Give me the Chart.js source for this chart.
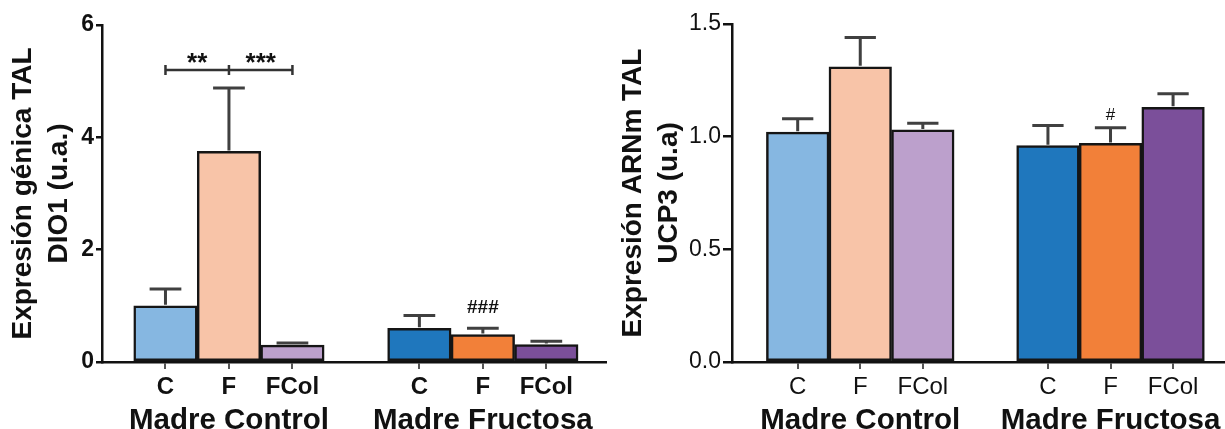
<!DOCTYPE html>
<html>
<head>
<meta charset="utf-8">
<script src="https://cdn.jsdelivr.net/npm/chart.js@4.4.0/dist/chart.umd.min.js"></script>
<style>
  body { margin: 0; background: #fff; }
  #wrap { position: relative; width: 1225px; height: 429px; }
  .box { position: absolute; top: 0; height: 429px; }
</style>
</head>
<body>
<div id="wrap">
  <div class="box" style="left:0;width:612px"><canvas id="dio1"></canvas></div>
  <div class="box" style="left:612px;width:613px"><canvas id="ucp3"></canvas></div>
</div>
<script>
const groups = ['Madre Control', 'Madre Fructosa'];
const treatments = ['C', 'F', 'FCol'];
const barColors = ['#86b7e1', '#f8c4a8', '#bca0cc', '#1f77bd', '#f28039', '#7b4f9a'];

const dio1Values = [1.0, 3.75, 0.30, 0.60, 0.49, 0.31];
const dio1Errors = [0.30, 1.13, 0.04, 0.23, 0.11, 0.06];
const dio1Ticks = [0, 2, 4, 6];

const ucp3Values = [1.02, 1.31, 1.03, 0.96, 0.97, 1.13];
const ucp3Errors = [0.06, 0.13, 0.03, 0.09, 0.07, 0.06];
const ucp3Ticks = [0, 0.5, 1.0, 1.5];

const FONT = "'Liberation Sans', Arial, sans-serif";

// slot on the x axis for bar i: groups of 3 with one empty slot between
const slotOf = i => Math.floor(i / 3) * 4 + (i % 3) + 1;
const slots = dio1Values.map((v, i) => slotOf(i));

const errorBars = {
  id: 'errorBars',
  afterDatasetsDraw(chart, args, opts) {
    const { ctx } = chart;
    const y = chart.scales.y;
    const meta = chart.getDatasetMeta(0);
    ctx.save();
    ctx.strokeStyle = '#404040';
    ctx.lineWidth = 3;
    meta.data.forEach((bar, i) => {
      const v = opts.values[i], e = opts.errors[i];
      const top = y.getPixelForValue(v);
      const end = y.getPixelForValue(v + e);
      const half = bar.width / 4;
      ctx.beginPath();
      ctx.moveTo(bar.x, top - 1);
      ctx.lineTo(bar.x, end);
      ctx.moveTo(bar.x - half, end);
      ctx.lineTo(bar.x + half, end);
      ctx.stroke();
    });
    ctx.restore();
  }
};

const groupLabels = {
  id: 'groupLabels',
  afterDraw(chart) {
    const { ctx } = chart;
    const x = chart.scales.x;
    ctx.save();
    ctx.fillStyle = '#111';
    ctx.font = 'bold 29.5px ' + FONT;
    ctx.textAlign = 'center';
    ctx.textBaseline = 'alphabetic';
    groups.forEach((g, k) => {
      ctx.fillText(g, x.getPixelForValue(k * 4 + 2), 429);
    });
    ctx.restore();
  }
};

function buildChart(id, values, errors, cfg) {
  return new Chart(document.getElementById(id), {
    type: 'bar',
    data: {
      datasets: [{
        data: values.map((v, i) => ({ x: slotOf(i), y: v })),
        backgroundColor: barColors,
        borderColor: '#151515',
        borderWidth: 2.5,
        borderSkipped: false,
        barPercentage: 1,
        categoryPercentage: 1
      }]
    },
    options: {
      responsive: true,
      maintainAspectRatio: false,
      animation: false,
      layout: { padding: { top: cfg.top, right: cfg.right, left: 0, bottom: 0 } },
      plugins: {
        legend: { display: false },
        tooltip: { enabled: false },
        errorBars: { values: values, errors: errors }
      },
      scales: {
        x: {
          type: 'linear',
          offset: false,
          min: cfg.xMin,
          max: cfg.xMax,
          afterBuildTicks: axis => { axis.ticks = slots.map(v => ({ value: v })); },
          afterFit: axis => { axis.height = 67; },
          ticks: {
            autoSkip: false,
            maxRotation: 0,
            padding: 4,
            color: '#111',
            font: { family: FONT, size: 24, weight: cfg.xWeight },
            callback: v => treatments[(v - 1) % 4]
          },
          grid: { offset: false, drawOnChartArea: false, tickLength: 7, color: '#555', lineWidth: 2 },
          border: { color: '#111', width: 2.5 }
        },
        y: {
          min: 0,
          max: cfg.yTicks[cfg.yTicks.length - 1],
          afterBuildTicks: axis => { axis.ticks = cfg.yTicks.map(v => ({ value: v })); },
          afterFit: axis => { axis.width = cfg.axisX; },
          ticks: {
            padding: 2,
            color: '#111',
            font: { family: FONT, size: 23, weight: cfg.yWeight },
            callback: cfg.tickFormat
          },
          grid: { drawOnChartArea: false, tickLength: cfg.tickLen, color: '#111', lineWidth: 2.5 },
          border: { color: '#111', width: 2.5 },
          title: {
            display: true,
            text: cfg.title,
            color: '#111',
            font: { family: FONT, size: 28, weight: 'bold', lineHeight: 1.3 },
            padding: { top: cfg.titlePad, bottom: 0 }
          }
        }
      }
    },
    plugins: [errorBars, groupLabels, cfg.marks]
  });
}

// significance marks for DIO1
const dio1Marks = {
  id: 'dio1Marks',
  afterDraw(chart) {
    const { ctx } = chart;
    const x = chart.scales.x, y = chart.scales.y;
    const by = y.getPixelForValue(5.2);
    const x1 = x.getPixelForValue(1), x2 = x.getPixelForValue(2), x3 = x.getPixelForValue(3);
    ctx.save();
    ctx.strokeStyle = '#333';
    ctx.lineWidth = 2.5;
    ctx.beginPath();
    ctx.moveTo(x1, by); ctx.lineTo(x3, by);
    [x1, x2, x3].forEach(px => { ctx.moveTo(px, by - 5); ctx.lineTo(px, by + 5); });
    ctx.stroke();
    ctx.fillStyle = '#111';
    ctx.textAlign = 'center';
    ctx.textBaseline = 'alphabetic';
    ctx.font = 'bold 26px ' + FONT;
    ctx.fillText('**', (x1 + x2) / 2, by + 1);
    ctx.fillText('***', (x2 + x3) / 2, by + 1);
    const e = y.getPixelForValue(dio1Values[4] + dio1Errors[4]);
    ctx.font = 'bold 19px ' + FONT;
    ctx.fillText('###', x.getPixelForValue(6), e - 15);
    ctx.restore();
  }
};

const ucp3Marks = {
  id: 'ucp3Marks',
  afterDraw(chart) {
    const { ctx } = chart;
    const x = chart.scales.x, y = chart.scales.y;
    const e = y.getPixelForValue(ucp3Values[4] + ucp3Errors[4]);
    ctx.save();
    ctx.fillStyle = '#111';
    ctx.textAlign = 'center';
    ctx.textBaseline = 'alphabetic';
    ctx.font = '17px ' + FONT;
    ctx.fillText('#', x.getPixelForValue(6), e - 8);
    ctx.restore();
  }
};

buildChart('dio1', dio1Values, dio1Errors, {
  top: 25, right: 6, axisX: 102, xMin: 0, xMax: 7.94,
  yTicks: dio1Ticks, tickLen: 6, tickFormat: v => String(v),
  xWeight: 'bold', yWeight: 'bold',
  title: ['Expresión génica TAL', 'DIO1 (u.a.)'], titlePad: 5,
  marks: dio1Marks
});

buildChart('ucp3', ucp3Values, ucp3Errors, {
  top: 24, right: 0, axisX: 120, xMin: -0.05, xMax: 7.83,
  yTicks: ucp3Ticks, tickLen: 9, tickFormat: v => v.toFixed(1),
  xWeight: 'normal', yWeight: 'normal',
  title: ['Expresión ARNm TAL', 'UCP3 (u.a)'], titlePad: 3,
  marks: ucp3Marks
});
</script>
</body>
</html>
